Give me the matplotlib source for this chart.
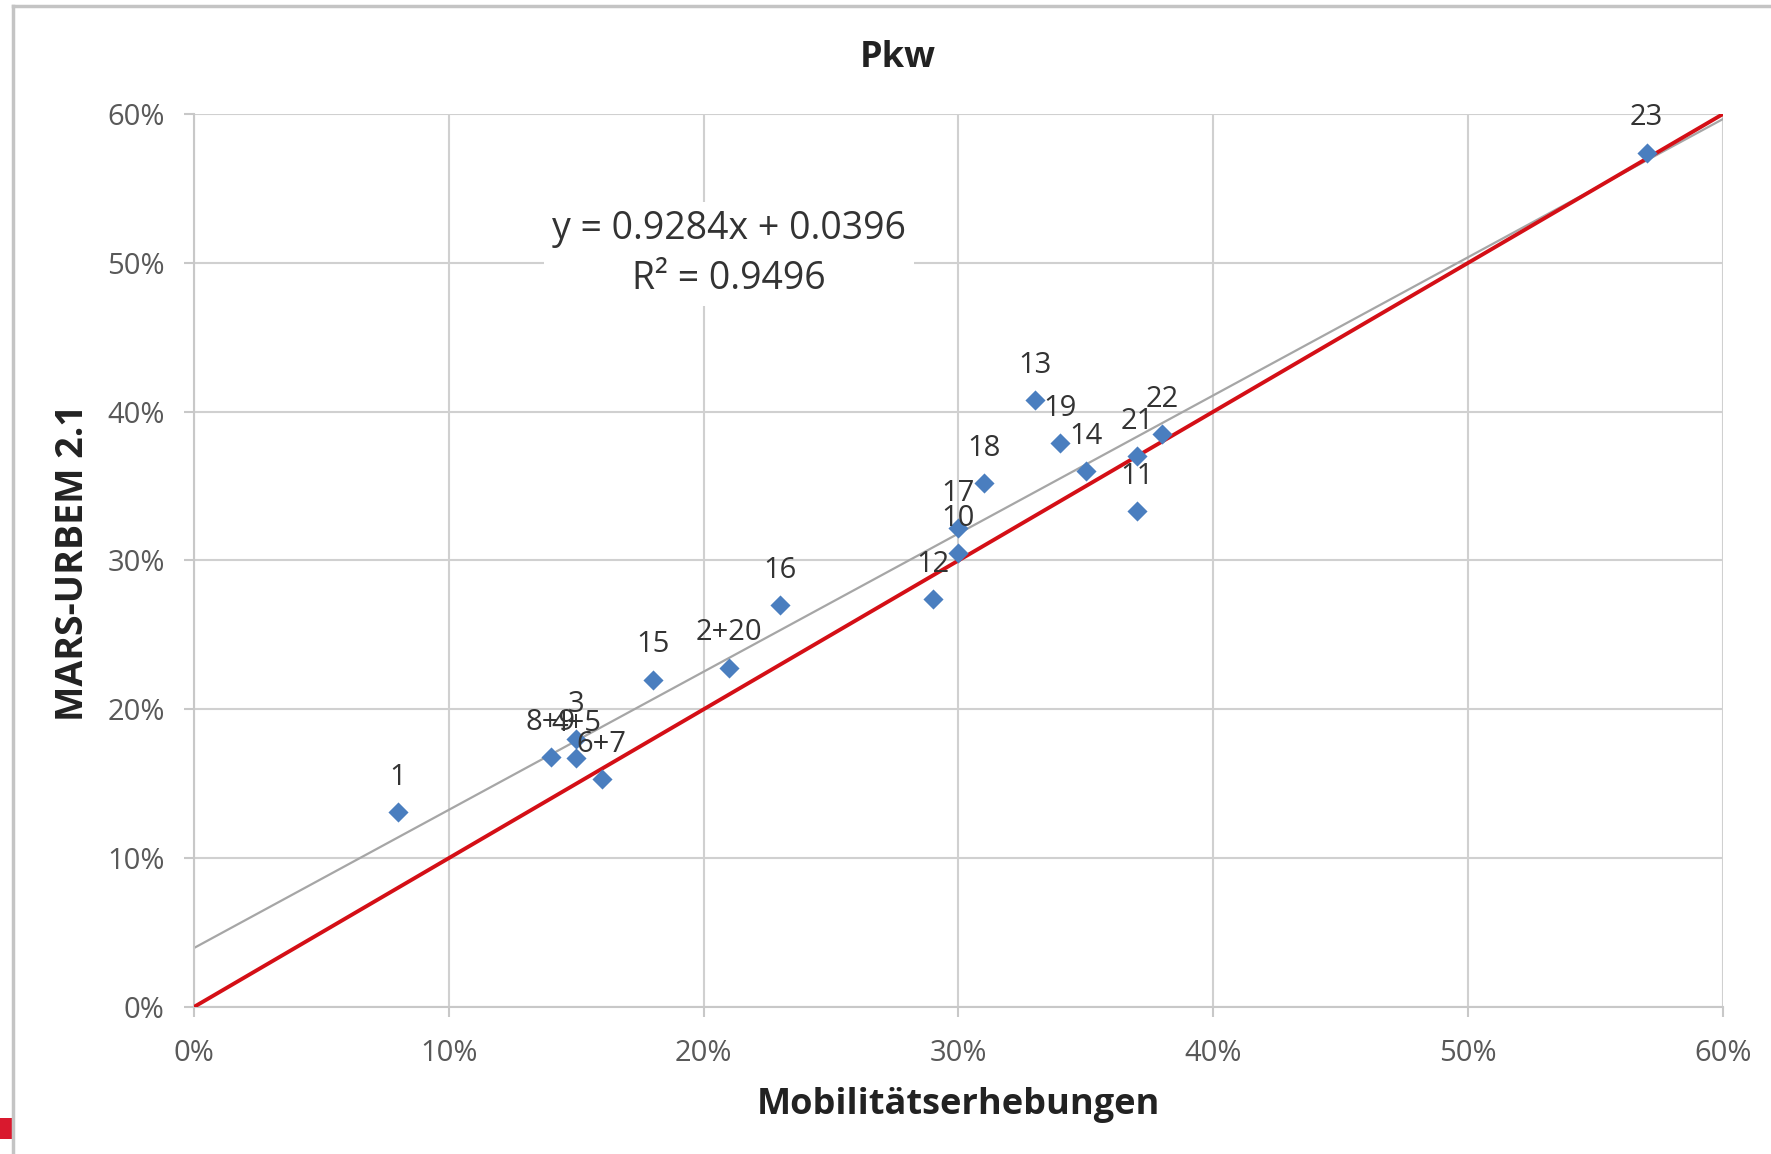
import matplotlib
matplotlib.use('Agg')
import matplotlib.pyplot as plt
import numpy as np
from matplotlib.ticker import PercentFormatter, MultipleLocator
from matplotlib.lines import Line2D
from matplotlib.patches import Rectangle

plt.rcParams['font.family'] = ['Open Sans', 'DejaVu Sans']

# values in percent
labels = ['1', '8+9', '3', '4+5', '6+7', '15', '2+20', '16', '12', '10',
          '17', '18', '13', '19', '14', '21', '11', '22', '23']
survey = [8, 14, 15, 15, 16, 18, 21, 23, 29, 30, 30, 31, 33, 34, 35, 37, 37, 38, 57]
model = [13.1, 16.8, 18.0, 16.7, 15.3, 22.0, 22.8, 27.0, 27.4, 30.5,
         32.2, 35.2, 40.8, 37.9, 36.0, 37.0, 33.3, 38.5, 57.4]

slope = 0.9284
intercept = 0.0396
r2 = 0.9496
axis_range = [0, 60]

fig = plt.figure(figsize=(17.71, 11.54), dpi=100)
ax = fig.add_axes([0.1095, 0.1274, 0.8634, 0.7738])

# chart frame and the little red mark at the lower left
fig.add_artist(Line2D([13 / 1771, 13 / 1771], [0, 1 - 6 / 1154], transform=fig.transFigure,
                      color='#c4c4c4', lw=2.5))
fig.add_artist(Line2D([13 / 1771, 1], [1 - 6 / 1154, 1 - 6 / 1154], transform=fig.transFigure,
                      color='#c4c4c4', lw=2.5))
fig.add_artist(Rectangle((0, 1 - 1139 / 1154), 12 / 1771, 21 / 1154, transform=fig.transFigure,
                         color='#d9192e', lw=0))

xr = np.array(axis_range, dtype=float)
ax.plot(xr, xr, color='#d40f16', lw=2.8, zorder=3)
ax.plot(xr, (slope * xr / 100 + intercept) * 100, color='#a6a6a6', lw=1.6, zorder=2)

ax.scatter(survey, model, marker='D', s=105, color='#4a7ebf', zorder=4, linewidths=0)
for lab, xv, yv in zip(labels, survey, model):
    ax.annotate(lab, (xv, yv), xytext=(0, 25), textcoords='offset points',
                ha='center', va='center', fontsize=21, color='#333333', zorder=6)

ax.text(21, 50.6, f'y = {slope:.4f}x + {intercept:.4f}\nR² = {r2:.4f}', ha='center', va='center',
        fontsize=27, color='#333333', linespacing=1.42, zorder=5,
        bbox=dict(facecolor='white', edgecolor='none', pad=6))

ax.set_xlim(axis_range)
ax.set_ylim(axis_range)
ax.xaxis.set_major_locator(MultipleLocator(10))
ax.yaxis.set_major_locator(MultipleLocator(10))
ax.xaxis.set_major_formatter(PercentFormatter(100, decimals=0))
ax.yaxis.set_major_formatter(PercentFormatter(100, decimals=0))
ax.grid(True, color='#d0d0d0', lw=1.5, zorder=0)
ax.set_axisbelow(True)
for s in ['top', 'right']:
    ax.spines[s].set_visible(False)
for s in ['left', 'bottom']:
    ax.spines[s].set_color('#c8c8c8')
    ax.spines[s].set_linewidth(1.5)
ax.tick_params(length=7, width=1.5, color='#c8c8c8', labelsize=21, labelcolor='#595959')
ax.tick_params(axis='x', pad=16)
ax.tick_params(axis='y', pad=14)

fig.text(898 / 1771, 1 - 58 / 1154, 'Pkw', ha='center', va='center',
         fontsize=26, fontweight='bold', color='#222222')
ax.set_xlabel('Mobilitätserhebungen', fontsize=26, fontweight='bold', color='#222222', va='center')
ax.xaxis.set_label_coords(0.5, -0.1097)
ax.set_ylabel('MARS-URBEM 2.1', fontsize=27, fontweight='bold', color='#222222', va='center')
ax.yaxis.set_label_coords(-0.0791, 0.498)

fig.savefig('out.png', dpi=100)
